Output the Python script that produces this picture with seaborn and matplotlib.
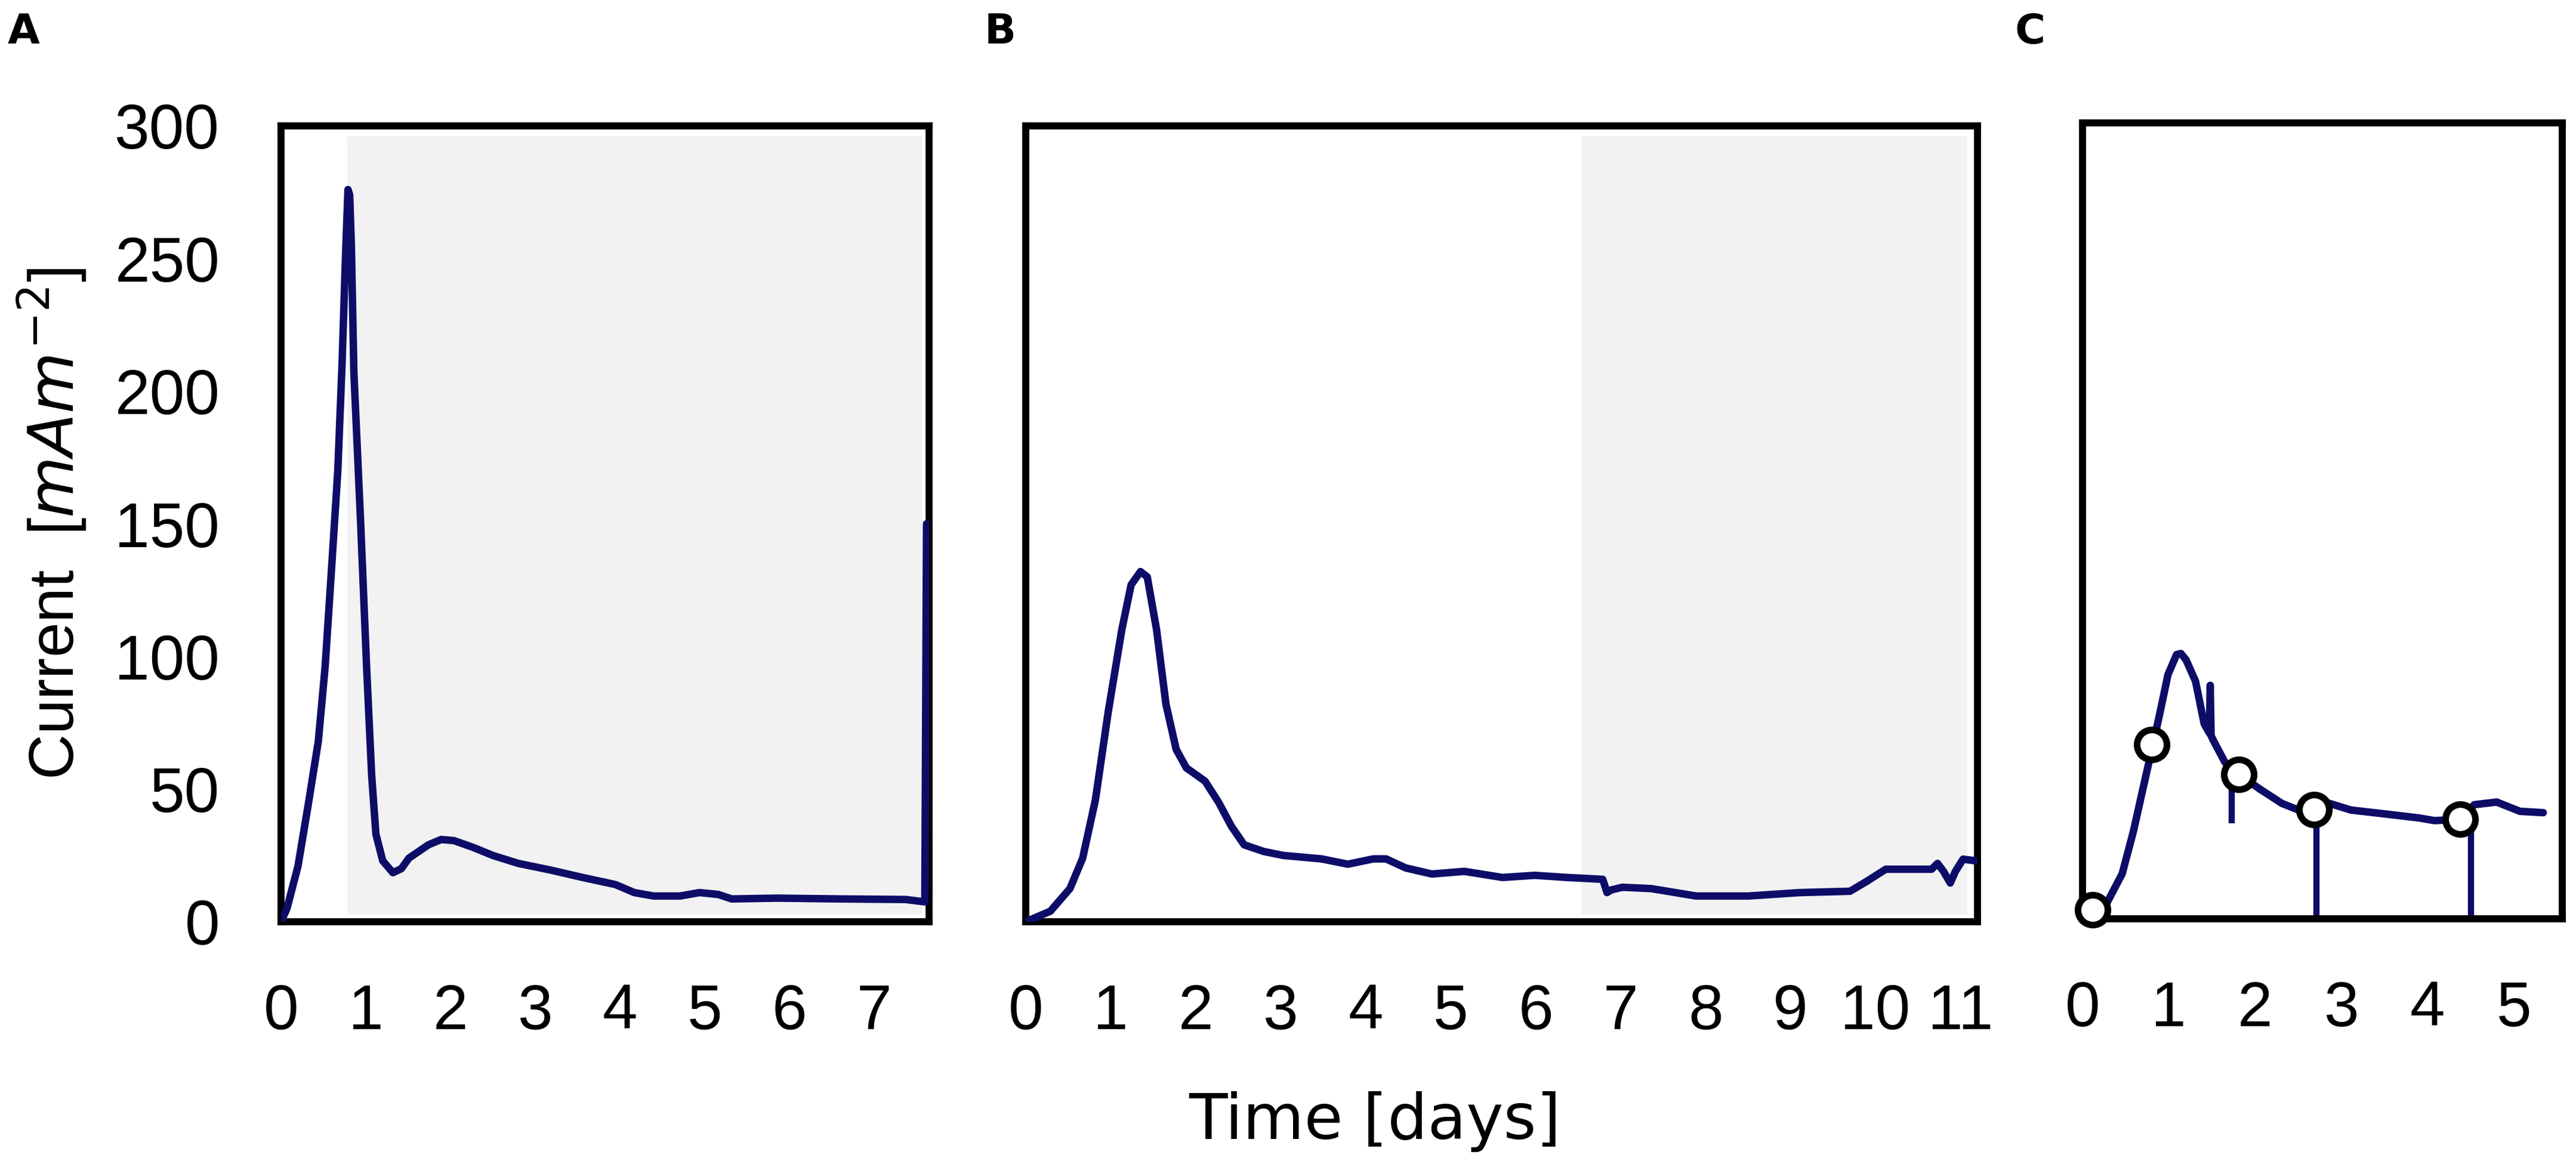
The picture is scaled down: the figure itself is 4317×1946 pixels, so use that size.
import matplotlib
matplotlib.use("Agg")
import matplotlib.pyplot as plt
import seaborn as sns
import pandas as pd

# panel A: first batch run
a_days = [0, 0.07, 0.2, 0.32, 0.44, 0.52, 0.6, 0.67, 0.72, 0.76, 0.79, 0.81, 0.83,
          0.86, 0.94, 1.01, 1.07, 1.12, 1.2, 1.32, 1.42, 1.51, 1.74, 1.89, 2.04,
          2.27, 2.5, 2.8, 3.18, 3.56, 3.95, 4.17, 4.4, 4.71, 4.94, 5.16, 5.32,
          5.85, 6.61, 7.37, 7.6, 7.62]
a_current = [0, 5, 21, 44, 68, 96, 135, 170, 210, 250, 276, 274, 255,
             207, 150, 96, 55, 33, 23, 18.5, 20, 24, 29, 31, 30.6,
             28, 25, 22, 19.5, 16.7, 14, 11, 9.7, 9.7, 11, 10.3, 8.6,
             8.9, 8.6, 8.4, 7.5, 150]

# panel B: second run
b_days = [0, 0.29, 0.52, 0.67, 0.82, 0.97, 1.13, 1.24, 1.35, 1.43, 1.54, 1.65,
          1.77, 1.89, 2.11, 2.27, 2.42, 2.57, 2.8, 3.03, 3.48, 3.79, 4.09, 4.24,
          4.47, 4.78, 5.16, 5.61, 5.99, 6.37, 6.79, 6.84, 6.89, 7.02, 7.36, 7.89,
          8.5, 9.11, 9.7, 9.9, 10.12, 10.66, 10.73, 10.8, 10.88, 10.94, 11.03, 11.17]
b_current = [0, 4, 12.5, 24, 46, 79, 110, 127, 132, 130, 110, 82,
             65, 58, 53, 45, 36, 29, 26.5, 25, 23.7, 21.7, 23.7, 23.7,
             20.3, 18, 19, 16.7, 17.5, 16.7, 16, 11, 12, 13, 12.5, 9.7,
             9.7, 11, 11.5, 15.3, 19.8, 19.8, 22, 19, 14.6, 19, 23.6, 23]

# panel C: third run with sampling points
c_days = [0.12, 0.28, 0.46, 0.59, 0.70, 0.78, 0.89, 0.99, 1.09, 1.14, 1.20, 1.31,
          1.41, 1.47, 1.48, 1.49, 1.52, 1.65, 1.81, 2.05, 2.31, 2.58, 2.72, 2.81,
          3.11, 3.51, 3.9, 4.08, 4.38, 4.54, 4.8, 5.07, 5.34]
c_current = [3.4, 5.8, 17, 33, 49, 60.5, 76.5, 92, 99.6, 100, 97.6, 89.5,
             73.5, 70, 88, 69, 67, 59, 54.5, 49, 43.5, 40, 41, 44,
             41, 39.5, 38, 37, 37.5, 43, 44, 40.5, 40]
c_sample_days = [0.12, 0.80, 1.81, 2.68, 4.38]
c_sample_current = [3.4, 65.7, 54.5, 41.2, 37.5]
c_stem_days = [1.73, 2.71, 4.5]
c_stem_top = [50, 38, 37]
c_stem_bottom = [36, 0, 0]

# shaded periods (start, end) in days
a_shade = (0.78, 7.57)
b_shade = (6.54, 11.08)

sns.set_theme(style="white")
plt.rcParams["font.family"] = ["Liberation Sans", "DejaVu Sans"]
plt.rcParams["mathtext.fontset"] = "dejavusans"
plt.rcParams["text.color"] = "black"

W, H = 4317, 1946
fig = plt.figure(figsize=(W / 100, H / 100), dpi=100)

line_color = "#0d0d68"
shade_color = "#f2f2f2"


def px_axes(left, right, top, bottom):
    return fig.add_axes([left / W, 1 - bottom / H, (right - left) / W, (bottom - top) / H])


axA = px_axes(471, 1557, 211, 1545)
axB = px_axes(1719, 3314, 211, 1545)
axC = px_axes(3490, 4294, 206, 1540)

dfA = pd.DataFrame({"days": a_days, "current": a_current})
dfB = pd.DataFrame({"days": b_days, "current": b_current})
dfC = pd.DataFrame({"days": c_days, "current": c_current})

axA.axvspan(*a_shade, ymin=0.009, ymax=0.987, color=shade_color, lw=0, zorder=0)
axB.axvspan(*b_shade, ymin=0.009, ymax=0.987, color=shade_color, lw=0, zorder=0)

for ax, df in [(axA, dfA), (axB, dfB), (axC, dfC)]:
    sns.lineplot(data=df, x="days", y="current", ax=ax, color=line_color,
                 sort=False, estimator=None, zorder=3)
    for ln in ax.lines:
        ln.set_linewidth(9)
        ln.set_solid_joinstyle("round")
        ln.set_solid_capstyle("round")

axC.vlines(c_stem_days, c_stem_bottom, c_stem_top, color=line_color, linewidth=7.5, zorder=2)
sns.scatterplot(x=c_sample_days, y=c_sample_current, ax=axC, s=1300,
                facecolor="white", edgecolor="black", linewidth=8,
                zorder=5, clip_on=False)

axA.set_xlim(0, 7.65)
axB.set_xlim(0, 11.2)
axC.set_xlim(0, 5.56)
for ax in (axA, axB, axC):
    ax.set_ylim(0, 300)
    ax.set_xlabel("")
    ax.set_ylabel("")
    for sp in ax.spines.values():
        sp.set_linewidth(8.5)
        sp.set_color("black")
    ax.tick_params(length=0, pad=74, labelsize=76, colors="black")

axA.set_xticks(range(0, 8))
axB.set_xticks(range(0, 12))
axC.set_xticks(range(0, 6))
axA.set_yticks(range(0, 301, 50))
axB.set_yticks([])
axC.set_yticks([])

fig.text(87 / W, 1 - 878 / H, r"Current  [$mAm^{-2}$]", rotation=90,
         ha="center", va="center", fontsize=76, color="black")
fig.text(2304 / W, 1 - 1880 / H, "Time [days]", ha="center", va="center",
         fontsize=76, family=["DejaVu Sans"], color="black")

for x, letter in [(13, "A"), (1650, "B"), (3377, "C")]:
    fig.text(x / W, 1 - 20 / H, letter, ha="left", va="top",
             fontsize=50, fontweight="heavy", family=["DejaVu Sans"], color="black")

fig.savefig("out.png", dpi=100)
